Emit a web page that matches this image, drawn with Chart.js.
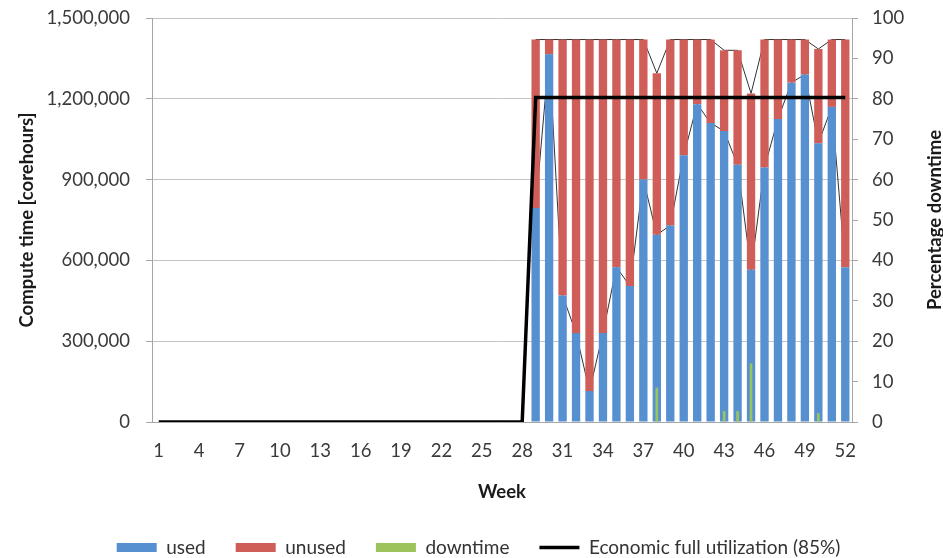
<!DOCTYPE html>
<html>
<head>
<meta charset="utf-8">
<title>Compute time per week</title>
<script src="https://cdn.jsdelivr.net/npm/chart.js@4.4.0/dist/chart.umd.min.js"></script>
<style>
  html, body { margin: 0; padding: 0; background: #fff; overflow: hidden; }
  #wrap { width: 943px; height: 558px; }
</style>
</head>
<body>
<div id="wrap"><canvas id="chart"></canvas></div>
<script>
// categories: weeks 1..52
const weeks = Array.from({ length: 52 }, (_, i) => String(i + 1));

// corehours actually used per week (nothing before week 29)
const used = [
  0, 0, 0, 0, 0, 0, 0, 0, 0, 0, 0, 0, 0, 0,
  0, 0, 0, 0, 0, 0, 0, 0, 0, 0, 0, 0, 0, 0,
  795000, 1365000, 470000, 330000, 115000, 330000, 575000, 505000,
  900000, 695000, 730000, 990000, 1180000, 1110000, 1080000, 955000,
  565000, 945000, 1125000, 1260000, 1290000, 1035000, 1170000, 575000
];

// corehours available but not used
const unused = [
  0, 0, 0, 0, 0, 0, 0, 0, 0, 0, 0, 0, 0, 0,
  0, 0, 0, 0, 0, 0, 0, 0, 0, 0, 0, 0, 0, 0,
  625000, 55000, 950000, 1090000, 1305000, 1090000, 845000, 915000,
  520000, 600000, 690000, 430000, 240000, 310000, 300000, 425000,
  655000, 475000, 295000, 160000, 130000, 350000, 250000, 845000
];

// downtime in percent (right axis)
const downtime = [
  0, 0, 0, 0, 0, 0, 0, 0, 0, 0, 0, 0, 0, 0,
  0, 0, 0, 0, 0, 0, 0, 0, 0, 0, 0, 0, 0, 0,
  0, 0, 0, 0, 0, 0, 0, 0,
  0, 8.5, 0, 0, 0, 0, 2.7, 2.7,
  14.5, 0, 0, 0, 0, 2.2, 0, 0
];

// economic full utilization level (85% of capacity)
const economic = [
  0, 0, 0, 0, 0, 0, 0, 0, 0, 0, 0, 0, 0, 0,
  0, 0, 0, 0, 0, 0, 0, 0, 0, 0, 0, 0, 0, 0,
  1205000, 1205000, 1205000, 1205000, 1205000, 1205000, 1205000, 1205000,
  1205000, 1205000, 1205000, 1205000, 1205000, 1205000, 1205000, 1205000,
  1205000, 1205000, 1205000, 1205000, 1205000, 1205000, 1205000, 1205000
];

const leftTicks = [0, 300000, 600000, 900000, 1200000, 1500000];
const rightTicks = [0, 10, 20, 30, 40, 50, 60, 70, 80, 90, 100];

// thin "series lines" joining the tops of the stacked columns
const usedTop = used.map((v, i) => (v + unused[i] === 0 ? null : v));
const totalTop = used.map((v, i) => (v + unused[i] === 0 ? null : v + unused[i]));

Chart.defaults.font.family = 'Lato';
Chart.defaults.font.size = 18.5;
Chart.defaults.color = '#3a3a3a';

// right axis title reads bottom-to-top like the left one
const rightTitle = {
  id: 'rightTitle',
  afterDraw(chart) {
    const { ctx, chartArea } = chart;
    ctx.save();
    ctx.translate(935, (chartArea.top + chartArea.bottom) / 2);
    ctx.rotate(-Math.PI / 2);
    ctx.font = 'bold 18.5px Lato';
    ctx.fillStyle = '#1a1a1a';
    ctx.textAlign = 'center';
    ctx.textBaseline = 'middle';
    ctx.fillText('Percentage downtime', 0, 0);
    ctx.restore();
  }
};

// fixed axis widths; label overflow should not push the plot down
const fixWidth = (w) => (s) => {
  s.width = w;
  s.paddingTop = 0;
  s.paddingBottom = 0;
};

new Chart(document.getElementById('chart'), {
  data: {
    labels: weeks,
    datasets: [
      {
        type: 'bar', label: 'used', data: used, yAxisID: 'y', order: 3,
        backgroundColor: '#5690D0', borderWidth: 0, pointStyle: 'rect',
        barPercentage: 0.62, categoryPercentage: 1
      },
      {
        type: 'bar', label: 'unused', data: unused, yAxisID: 'y', order: 4,
        backgroundColor: '#D05E58', borderWidth: 0, pointStyle: 'rect',
        barPercentage: 0.62, categoryPercentage: 1
      },
      {
        type: 'bar', label: 'downtime', data: downtime, yAxisID: 'y1', order: 2,
        backgroundColor: '#9CC35C', borderWidth: 0, pointStyle: 'rect',
        barPercentage: 0.2, categoryPercentage: 1
      },
      {
        type: 'line', label: 'Economic full utilization (85%)', data: economic,
        yAxisID: 'yl', order: 1, borderColor: '#000', backgroundColor: '#000',
        borderWidth: 3.5, pointRadius: 0, pointStyle: 'line', tension: 0
      },
      {
        type: 'line', label: 'used line', data: usedTop, yAxisID: 'yl', order: 5,
        borderColor: '#333', borderWidth: 1, pointRadius: 0, tension: 0
      },
      {
        type: 'line', label: 'total line', data: totalTop, yAxisID: 'yl', order: 6,
        borderColor: '#333', borderWidth: 1, pointRadius: 0, tension: 0
      }
    ]
  },
  options: {
    responsive: true,
    maintainAspectRatio: false,
    animation: false,
    // negative right padding only nudges the centred legend to the right
    layout: { padding: { top: 18, left: 0, right: -14, bottom: -9 } },
    plugins: {
      tooltip: { enabled: false },
      legend: {
        position: 'bottom',
        labels: {
          usePointStyle: true,
          pointStyleWidth: 40,
          boxHeight: 9,
          padding: 30,
          color: '#333',
          font: { size: 19 },
          filter: (item) => item.datasetIndex < 4,
          sort: (a, b) => a.datasetIndex - b.datasetIndex
        }
      }
    },
    scales: {
      x: {
        stacked: true,
        grid: { display: false, drawTicks: false },
        border: { display: true, color: '#a6a6a6' },
        ticks: {
          autoSkip: false, maxRotation: 0, padding: 18,
          callback: (v, i) => (i % 3 === 0 ? weeks[i] : '')
        },
        title: {
          display: true, text: 'Week', color: '#1a1a1a',
          font: { weight: 'bold', size: 18.5 }, padding: { top: 0, bottom: 5 }
        },
        afterFit: (s) => { s.height = 86; }
      },
      y: {
        stacked: true, position: 'left', min: 0, max: 1500000,
        afterBuildTicks: (s) => { s.ticks = leftTicks.map((v) => ({ value: v })); },
        ticks: { padding: 16, callback: (v) => v.toLocaleString('en-US') },
        grid: { color: '#c4c4c4', tickLength: 6, tickColor: '#a6a6a6' },
        border: { color: '#a6a6a6' },
        title: {
          display: true, text: 'Compute time [corehours]', color: '#1a1a1a',
          font: { weight: 'bold', size: 18.5 }, padding: { top: 16, bottom: 0 }
        },
        afterFit: fixWidth(152)
      },
      y1: {
        position: 'right', min: 0, max: 100, stacked: false,
        afterBuildTicks: (s) => { s.ticks = rightTicks.map((v) => ({ value: v })); },
        ticks: { padding: 14 },
        grid: { drawOnChartArea: false, tickLength: 6, color: '#a6a6a6' },
        border: { color: '#a6a6a6' },
        afterFit: fixWidth(105)
      },
      yl: { display: false, min: 0, max: 1500000, stacked: false }
    }
  },
  plugins: [rightTitle]
});
</script>
</body>
</html>
